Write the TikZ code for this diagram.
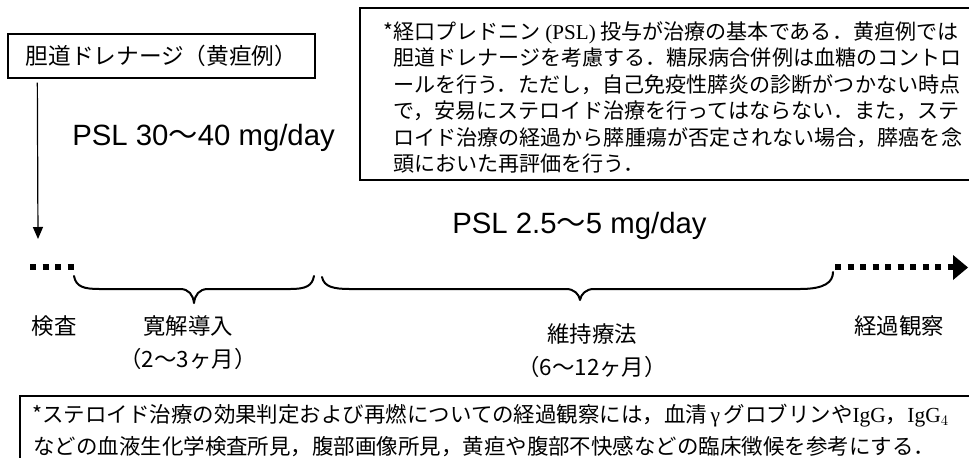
\documentclass[tikz,border=0pt]{standalone}
\usepackage{fontspec}
\setmainfont{Liberation Serif}
\newfontfamily\cjk{Noto Sans CJK JP}
\newfontfamily\arialf{Liberation Sans}
\usetikzlibrary{arrows.meta}
\tikzset{
  frame/.style={line width=1pt},
  rnote/.style={anchor=base west, inner sep=0pt, font=\cjk\fontsize{15.8}{19}\selectfont},
  bnote/.style={anchor=base west, inner sep=0pt, font=\cjk\fontsize{16.1}{19}\selectfont},
  lbl/.style={anchor=center, inner sep=0pt, font=\cjk\fontsize{16.8}{20}\selectfont},
  dose/.style={anchor=base west, inner sep=0pt, font=\arialf\fontsize{22}{26}\selectfont},
  brace/.style={line width=1.5pt, line cap=round, line join=round},
  dotline/.style={line width=4.5pt, dash pattern=on 4.5pt off 4.9pt},
}
\begin{document}
\begin{tikzpicture}[x=0.75pt,y=-0.75pt]
\useasboundingbox (0,0) rectangle (969,457);
\clip (0,0) rectangle (969,457);

% left box
\node (lbox) [draw, frame, inner sep=0pt, minimum width=230.25pt, minimum height=33pt,
  font=\cjk\fontsize{17}{20}\selectfont] at (161.5,56) {胆道ドレナージ（黄疸例）};
\coordinate (arrend) at (38,239);
\draw[line width=0.9pt, -{Triangle[length=9pt,width=7.5pt]}]
  ([xshift=22.5pt,yshift=-3pt]lbox.south west) -- (arrend);

% right note box
\draw[frame] (360,8) rectangle (990,180);
\node (r1) [rnote] at (393,39.3) {\llap{*}経口プレドニン {\rmfamily(PSL)} 投与が治療の基本である．黄疸例では};
\node (r2) [rnote] at (393,65.8) {胆道ドレナージを考慮する．糖尿病合併例は血糖のコントロ};
\node (r3) [rnote] at (393,92.3) {ールを行う．ただし，自己免疫性膵炎の診断がつかない時点};
\node (r4) [rnote] at (393,118.8) {で，安易にステロイド治療を行ってはならない．また，ステ};
\node (r5) [rnote] at (393,145.3) {ロイド治療の経過から膵腫瘍が否定されない場合，膵癌を念};
\node (r6) [rnote] at (393,171.8) {頭においた再評価を行う．};

% doses
\node (dose1) [dose] at (72,145) {PSL 30{\cjk 〜}40 mg/day};
\node (dose2) [dose] at (452,233) {PSL 2.5{\cjk 〜}5 mg/day};

% timeline
\coordinate (d1s) at (30,267);
\coordinate (d1e) at (74,267);
\draw[dotline] (d1s) -- (d1e);
\coordinate (d2s) at (835,267);
\coordinate (d2e) at (954,267);
\draw[dotline] (d2s) -- (d2e);
\coordinate (tipA) at (953,255);
\coordinate (tipB) at (953,280);
\coordinate (tipC) at (968,267.5);
\fill (tipA) -- (tipC) -- (tipB) -- cycle;

% braces
\draw[brace] (74,276) .. controls (76,287) and (84,289) .. (100,289) -- (180,289)
  .. controls (189,289) and (193,295) .. (194,303)
  .. controls (195,295) and (199,289) .. (208,289) -- (290,289)
  .. controls (306,289) and (312,286) .. (314,276);
\draw[brace] (322,277) .. controls (324,287) and (334,289) .. (350,289) -- (566,289)
  .. controls (574,289) and (579,294) .. (580,300)
  .. controls (581,294) and (586,289) .. (594,289) -- (800,289)
  .. controls (825,289) and (833,282) .. (833,272);

% labels
\node (kensa) [lbl] at (54,326) {検査};
\node (kankai) [lbl] at (188,326) {寛解導入};
\node (kankaim) [lbl] at (188,359) {（2〜3ヶ月）};
\node (iji) [lbl] at (592,334) {維持療法};
\node (ijim) [lbl] at (592,367) {（6〜12ヶ月）};
\node (keika) [lbl] at (899,326) {経過観察};

% bottom note box
\draw[frame] (20,396) rectangle (990,470);
\node (b1) [bnote] at (32,422.4) {*ステロイド治療の効果判定および再燃についての経過観察には，血清{\rmfamily\,γ\,}グロブリンや{\rmfamily IgG}，{\rmfamily IgG$_4$}};
\node (b2) [bnote] at (33,454.4) {などの血液生化学検査所見，腹部画像所見，黄疸や腹部不快感などの臨床徴候を参考にする．};
\end{tikzpicture}
\end{document}
